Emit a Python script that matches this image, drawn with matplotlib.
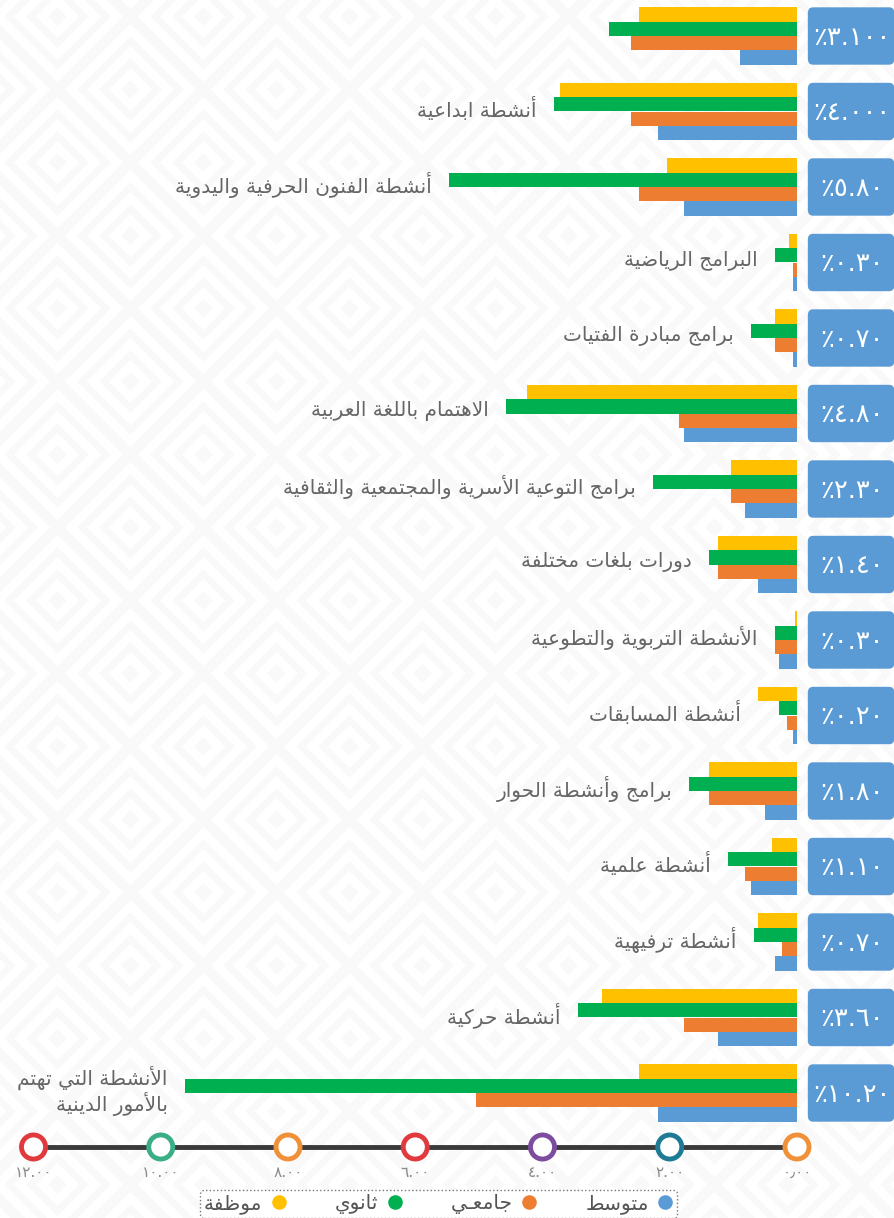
import numpy as np
import matplotlib
matplotlib.use('Agg')
import matplotlib.pyplot as plt
from matplotlib.patches import FancyBboxPatch
from matplotlib.lines import Line2D
from matplotlib.colors import ListedColormap

# activity names, top to bottom (the first one has no label in the source)
categories = [
    "",
    "أنشطة ابداعية",
    "أنشطة الفنون الحرفية واليدوية",
    "البرامج الرياضية",
    "برامج مبادرة الفتيات",
    "الاهتمام باللغة العربية",
    "برامج التوعية الأسرية والمجتمعية والثقافية",
    "دورات بلغات مختلفة",
    "الأنشطة التربوية والتطوعية",
    "أنشطة المسابقات",
    "برامج وأنشطة الحوار",
    "أنشطة علمية",
    "أنشطة ترفيهية",
    "أنشطة حركية",
    "الأنشطة التي تهتم\nبالأمور الدينية",
]

# values per education level
mowazafa = [2.48, 3.72, 2.05, 0.13, 0.35, 4.25, 1.03, 1.24, 0.03, 0.61, 1.38, 0.40, 0.61, 3.06, 2.48]
thanawi = [2.95, 3.82, 5.47, 0.35, 0.72, 4.58, 2.26, 1.38, 0.35, 0.29, 1.69, 1.08, 0.68, 3.44, 9.62]
jamei = [2.61, 2.61, 2.48, 0.07, 0.35, 1.86, 1.03, 1.24, 0.35, 0.16, 1.38, 0.81, 0.24, 1.77, 5.04]
mutawasit = [0.89, 2.18, 1.77, 0.06, 0.06, 1.77, 0.81, 0.61, 0.29, 0.06, 0.51, 0.72, 0.35, 1.24, 2.18]

# totals shown in the blue boxes (visual order)
totals = ["٪٣.١٠٠", "٪٤.٠٠٠", "٪٥.٨٠", "٪٠.٣٠", "٪٠.٧٠", "٪٤.٨٠", "٪٢.٣٠", "٪١.٤٠",
          "٪٠.٣٠", "٪٠.٢٠", "٪١.٨٠", "٪١.١٠", "٪٠.٧٠", "٪٣.٦٠", "٪١٠.٢٠"]

xticks = [0, 2, 4, 6, 8, 10, 12]
xtick_labels = ["٠٫٠٠", "٢.٠٠", "٤.٠٠", "٦.٠٠", "٨.٠٠", "١٠.٠٠", "١٢.٠٠"]
tick_colors = ["#f0913a", "#1f7b95", "#7d4c9e", "#e03a3e", "#f0913a", "#3aae84", "#e03a3e"]

series_names = ["موظفة", "ثانوي", "جامعـي", "متوسط"]
series_colors = ["#ffc000", "#00b050", "#ed7d31", "#5b9bd5"]


# --- tiny arabic shaper: matplotlib draws glyphs left-to-right without joining
DUAL = {'ئ': 0xFE89, 'ب': 0xFE8F, 'ت': 0xFE95, 'ث': 0xFE99, 'ج': 0xFE9D, 'ح': 0xFEA1,
        'خ': 0xFEA5, 'س': 0xFEB1, 'ش': 0xFEB5, 'ص': 0xFEB9, 'ض': 0xFEBD, 'ط': 0xFEC1,
        'ظ': 0xFEC5, 'ع': 0xFEC9, 'غ': 0xFECD, 'ف': 0xFED1, 'ق': 0xFED5, 'ك': 0xFED9,
        'ل': 0xFEDD, 'م': 0xFEE1, 'ن': 0xFEE5, 'ه': 0xFEE9, 'ي': 0xFEF1}
RIGHT = {'آ': 0xFE81, 'أ': 0xFE83, 'ؤ': 0xFE85, 'إ': 0xFE87, 'ا': 0xFE8D, 'ة': 0xFE93,
         'د': 0xFEA9, 'ذ': 0xFEAB, 'ر': 0xFEAD, 'ز': 0xFEAF, 'و': 0xFEED, 'ى': 0xFEEF}
LAM_ALEF = {'آ': 0xFEF5, 'أ': 0xFEF7, 'إ': 0xFEF9, 'ا': 0xFEFB}
TATWEEL = 'ـ'


def shape_line(text):
    toks = []
    i = 0
    while i < len(text):
        c = text[i]
        if c == 'ل' and i + 1 < len(text) and text[i + 1] in LAM_ALEF:
            toks.append(('LA', text[i + 1]))
            i += 2
        else:
            toks.append(('C', c))
            i += 1

    def joins_next(t):
        return t[0] == 'C' and (t[1] in DUAL or t[1] == TATWEEL)

    def joins_prev(t):
        return t[0] == 'LA' or t[1] in DUAL or t[1] in RIGHT or t[1] == TATWEEL

    out = []
    for k, t in enumerate(toks):
        p = k > 0 and joins_next(toks[k - 1]) and joins_prev(t)
        n = k + 1 < len(toks) and joins_next(t) and joins_prev(toks[k + 1])
        kind, c = t
        if kind == 'LA':
            out.append(chr(LAM_ALEF[c] + (1 if p else 0)))
        elif c in DUAL:
            out.append(chr(DUAL[c] + (3 if p and n else 2 if n else 1 if p else 0)))
        elif c in RIGHT:
            out.append(chr(RIGHT[c] + (1 if p else 0)))
        else:
            out.append(c)
    return ''.join(reversed(out))


def ar(text):
    return '\n'.join(shape_line(s) for s in text.split('\n'))


plt.rcParams['font.family'] = ['DejaVu Sans']

W, H = 895, 1218
fig = plt.figure(figsize=(W / 100, H / 100), dpi=100)

# faint diamond background
bg = fig.add_axes([0, 0, 1, 1], zorder=-5)
yy, xx = np.mgrid[0:H, 0:W].astype(float)
P, cx, cy = 146.0, 130.0, 235.0
ax_ = np.abs(((xx - cx + P / 2) % P) - P / 2)
ay_ = np.abs(((yy - cy + P / 2) % P) - P / 2)
bx_ = np.abs(((xx - cx) % P) - P / 2)
by_ = np.abs(((yy - cy) % P) - P / 2)
d = np.minimum(ax_ + ay_, bx_ + by_)
bg.imshow((d % 22) < 10, cmap=ListedColormap(['white', '#faf9f9']), aspect='auto',
          interpolation='bilinear')
bg.axis('off')

# main axes: x=12 at px 33.5, x=0 at px 797, bottom line at px 1147
x0_px, x12_px, base_px = 797.0, 33.5, 1147.0
step_px, first_px = 75.5, 36.0
ax = fig.add_axes([x12_px / W, (H - base_px) / H, (x0_px - x12_px) / W, base_px / H])
ax.patch.set_alpha(0)
ax.set_xlim(12, 0)
ylo = -first_px / step_px
yhi = (base_px - first_px) / step_px
ax.set_ylim(yhi, ylo)

n = len(categories)
y = np.arange(n)
h = 0.19
series = [mowazafa, thanawi, jamei, mutawasit]
for k, (vals, col) in enumerate(zip(series, series_colors)):
    ax.barh(y + (k - 1.5) * h, vals, height=h, color=col, linewidth=0, zorder=3)

# category labels next to the longest bar
for i, name in enumerate(categories):
    if not name:
        continue
    longest = max(s[i] for s in series)
    ax.text(longest + 0.27, i - 0.03, ar(name), ha='right', va='center',
            multialignment='right', fontsize=14.5, color='#666666', linespacing=1.1)

# blue boxes with totals
for i, t in enumerate(totals):
    box = FancyBboxPatch((-1.53, i - 2 * h), 1.36, 4 * h,
                         boxstyle="round,pad=0,rounding_size=0.08",
                         facecolor='#5b9bd5', edgecolor='none', clip_on=False, zorder=3)
    ax.add_patch(box)
    ax.text(-0.86, i + 0.02, t, ha='center', va='center', color='white',
            fontsize=18.5, clip_on=False, zorder=4)

# bottom axis line with ring markers
for s in ['top', 'left', 'right']:
    ax.spines[s].set_visible(False)
ax.spines['bottom'].set_color('#3a3a3a')
ax.spines['bottom'].set_linewidth(3.5)
ax.spines['bottom'].set_bounds(0, 12)
ax.set_yticks([])
ax.set_xticks(xticks, xtick_labels)
ax.tick_params(axis='x', length=0, pad=13, labelsize=11, labelcolor='#8a8a8a')
ax.scatter(xticks, [0] * len(xticks), transform=ax.get_xaxis_transform(), s=300,
           facecolor='white', edgecolor=tick_colors, linewidth=3.5, clip_on=False, zorder=5)

# legend: right-to-left, marker to the right of text
handles = [Line2D([], [], linestyle='none', marker='o', markersize=10.5,
                  markerfacecolor=c, markeredgecolor='none') for c in series_colors]
leg = fig.legend(handles, [ar(s) for s in series_names], loc='center',
                 bbox_to_anchor=(438.5 / W, (H - 1204) / H), ncol=4, markerfirst=False,
                 frameon=True, fontsize=14.5, columnspacing=2.4, handletextpad=0.4,
                 handlelength=0.8, borderpad=0.2, borderaxespad=0, fancybox=True)
for txt in leg.get_texts():
    txt.set_color('#555555')
fr = leg.get_frame()
fr.set_linestyle(':')
fr.set_edgecolor('#777777')
fr.set_linewidth(1.0)
fr.set_facecolor('white')
fr.set_alpha(1)

fig.savefig('out.png', dpi=100)
